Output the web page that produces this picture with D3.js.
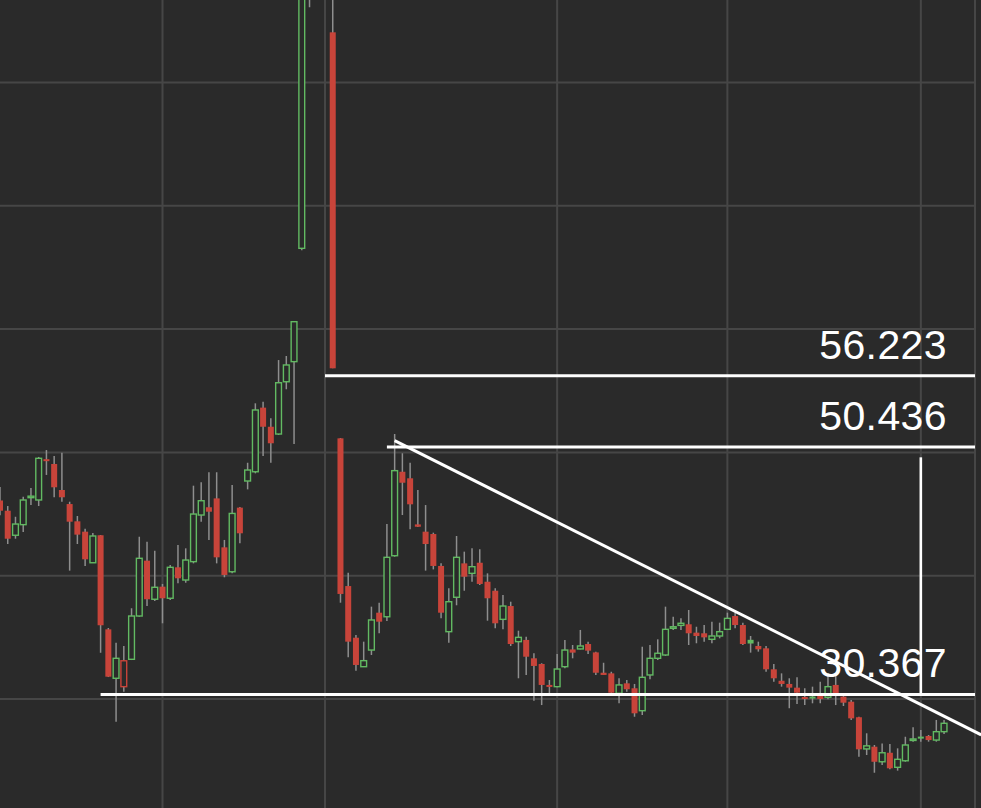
<!DOCTYPE html>
<html>
<head>
<meta charset="utf-8">
<script src="https://cdn.jsdelivr.net/npm/d3@7/dist/d3.min.js"></script>
<style>
html,body{margin:0;padding:0;background:#2a2a2a;overflow:hidden;}
svg{display:block;}
</style>
</head>
<body>
<svg id="chart" width="981" height="808"></svg>
<script>
// ---- data ----
const opens = [46.1,45.27,43.28,44.14,46.38,46.14,49.45,49.06,46.95,45.81,44.41,43.57,41.05,43.28,35.65,31.68,31.0,33.22,36.73,41.22,
38.09,39.11,38.17,40.68,39.65,41.14,44.92,45.55,46.27,42.3,40.32,45.52,47.68,48.43,53.63,52.08,51.49,55.73,57.36,66.55,
96,108,104,84.07,51.14,39.16,34.97,32.62,33.97,37.0,36.67,41.62,48.43,47.9,44.16,43.57,43.38,40.79,35.46,38.25,
41.0,40.19,41.05,39.51,38.78,36.46,37.54,34.65,34.79,33.3,32.84,31.14,31.0,32.62,34.02,34.06,34.46,33.78,32.13,32.08,
30.46,31.27,30.87,29.05,31.95,33.3,33.57,35.73,35.97,36.06,35.38,35.33,34.84,35.11,35.65,36.73,36.0,34.8,34.3,34.11,
32.41,31.48,31.22,30.92,30.16,30.2,30.24,30.14,31.14,30.19,29.78,28.52,25.95,26.13,24.91,25.64,24.46,24.99,26.72,26.95,
27.0,26.67,27.35];
const highs = [47.2,45.65,44.78,46.41,47.11,49.63,50.19,49.71,49.98,46.0,44.84,43.81,43.46,43.3,35.76,34.57,34.3,37.36,43.16,42.76,
42.03,39.33,40.87,42.49,42.22,47.3,47.57,48.39,48.39,42.9,47.36,45.57,49.16,53.98,54.11,52.77,57.49,57.82,60.65,97,
112,118,110,92,51.17,40.24,35.19,34.65,37.49,37.81,44.19,51.49,49.93,49.16,46.95,45.73,43.49,41.0,38.98,43.22,
41.95,42.22,42.14,40.19,38.98,38.43,37.89,35.54,35.05,33.71,32.9,31.54,33.65,34.79,34.38,35.6,34.65,33.84,32.94,32.21,
31.68,31.54,31.22,34.24,34.38,34.84,37.49,36.67,36.54,37.22,35.86,36.0,36.27,36.19,37.0,37.0,36.19,35.11,34.65,34.3,
32.84,32.08,31.68,31.76,30.87,31.0,31.4,32.08,31.95,30.32,29.92,28.56,27.22,26.27,26.4,26.35,26.0,26.94,27.7,27.49,
27.08,28.3,28.3];
const lows = [44.9,42.57,43.0,43.54,45.73,45.65,48.17,46.36,46.0,40.41,42.57,40.79,41.03,33.75,31.78,28.16,30.59,33.16,36.67,37.54,
37.95,36.14,38.03,39.38,39.43,41.0,44.38,42.9,41.0,39.87,40.19,42.63,47.0,48.3,49.71,49.16,51.41,55.12,50.68,66.4,
86.1,100,90,56.82,37.81,33.38,32.3,32.62,33.57,35.33,36.33,41.54,44.92,43.76,43.95,40.41,40.51,36.54,34.57,37.6,
38.78,39.51,39.25,36.35,35.73,35.65,34.3,31.68,31.95,29.86,29.51,30.32,30.95,32.49,33.3,34.03,33.65,31.95,31.95,30.46,
29.65,30.59,28.56,28.7,31.6,33.16,33.49,35.6,35.6,34.38,34.52,34.65,34.52,34.92,35.6,35.73,34.38,33.76,33.84,32.21,
31.4,31.0,29.25,29.59,29.51,29.65,29.65,29.98,29.51,29.43,28.3,25.32,25.46,24.02,24.65,24.3,24.19,24.91,26.54,26.54,
26.54,26.54,27.16];
const closes = [45.27,43.0,44.19,46.14,46.45,49.52,49.3,47.17,46.36,44.38,43.33,41.33,43.22,35.98,31.81,33.3,33.1,36.73,41.41,38.09,
39.06,38.17,40.68,39.79,41.27,45.0,46.08,45.19,41.49,40.06,45.05,43.44,48.57,53.44,52.08,50.74,55.65,57.09,60.6,95,
108,104,95,56.82,38.52,34.65,32.76,33.11,36.41,36.27,41.49,48.52,47.54,45.79,43.97,42.57,40.79,37.0,37.89,41.49,
39.92,40.73,39.33,38.17,36.14,37.54,34.46,35.0,33.43,32.68,31.14,31.0,32.43,33.97,33.76,34.3,33.92,32.13,31.95,30.51,
31.14,30.79,28.84,31.76,33.3,33.71,35.65,35.86,36.14,35.33,35.11,35.0,35.11,35.46,36.54,36.0,34.46,34.5,34.03,32.41,
31.68,31.22,30.92,30.51,30.12,30.18,30.0,31.0,30.32,29.7,28.43,25.92,26.2,24.91,25.64,24.38,25.11,26.27,26.76,26.8,
26.67,27.35,28.03];

const priceTicks = [30, 40, 50, 60, 70, 80];
const timeTicks = [21, 42, 72, 94, 119, 126];          // candle indices of the date grid lines
const levels = [56.223, 50.436, 30.367];
const levelStarts = [42, 50, 13];                      // candle index where each level line starts
const levelLabels = ["56.223", "50.436", "30.367"];
const trendFrom = [51, 50.95];                         // [index, price]
const trendTo = [126.8, 27.09];
const markerIndex = 119;
const markerRange = [49.6, 30.367];

// ---- layout ----
const W = 981, H = 808, plotRight = 975;
const svg = d3.select("#chart");
const x = d3.scaleLinear().domain([0, 126]).range([0, plotRight]);
const y = d3.scaleLinear().domain([21.16, 86.69]).range([H, 0]);

svg.append("rect").attr("width", W).attr("height", H).attr("fill", "#2a2a2a");

svg.append("defs").append("clipPath").attr("id", "plot")
  .append("rect").attr("x", 0).attr("y", 0).attr("width", plotRight).attr("height", H);

const gridColor = "#464646";
svg.append("g").selectAll("line").data(priceTicks).join("line")
  .attr("x1", 0).attr("x2", plotRight)
  .attr("y1", d => y(d)).attr("y2", d => y(d))
  .attr("stroke", gridColor).attr("stroke-width", 2);
svg.append("g").selectAll("line").data(timeTicks).join("line")
  .attr("x1", d => x(d)).attr("x2", d => x(d))
  .attr("y1", 0).attr("y2", H)
  .attr("stroke", gridColor).attr("stroke-width", 2);

const candles = opens.map((o, i) => ({
  i, o, h: highs[i], l: lows[i], c: closes[i],
  prev: i > 0 ? closes[i - 1] : o
}));

const green = "#62ba62", red = "#c8443a", wick = "#8e8e8e";
const g = svg.append("g").attr("clip-path", "url(#plot)");

g.selectAll("line.wick").data(candles).join("line").attr("class", "wick")
  .attr("x1", d => x(d.i)).attr("x2", d => x(d.i))
  .attr("y1", d => y(d.h)).attr("y2", d => y(d.l))
  .attr("stroke", wick).attr("stroke-width", 1.5);

g.selectAll("rect.body").data(candles).join("rect").attr("class", "body")
  .each(function(d) {
    const hollow = d.c >= d.o;
    const up = d.i === 0 ? d.c >= d.o : d.c >= d.prev;
    const col = up ? green : red;
    const top = y(Math.max(d.o, d.c)), bot = y(Math.min(d.o, d.c));
    const sel = d3.select(this);
    if (hollow) {
      sel.attr("x", x(d.i) - 2.9).attr("width", 5.8)
        .attr("y", top).attr("height", Math.max(bot - top, 1.5))
        .attr("fill", "#2a2a2a").attr("stroke", col).attr("stroke-width", 1.4);
    } else {
      sel.attr("x", x(d.i) - 3).attr("width", 6)
        .attr("y", top).attr("height", Math.max(bot - top, 2))
        .attr("fill", col);
    }
  });

// level lines
const lv = svg.append("g");
levels.forEach((v, k) => {
  lv.append("line")
    .attr("x1", x(levelStarts[k])).attr("x2", plotRight)
    .attr("y1", y(v)).attr("y2", y(v))
    .attr("stroke", "#ffffff").attr("stroke-width", 3);
});

// vertical marker
lv.append("line")
  .attr("x1", x(markerIndex)).attr("x2", x(markerIndex))
  .attr("y1", y(markerRange[0])).attr("y2", y(markerRange[1]))
  .attr("stroke", "#ffffff").attr("stroke-width", 2.6);

// trend line
lv.append("line")
  .attr("x1", x(trendFrom[0])).attr("y1", y(trendFrom[1]))
  .attr("x2", x(trendTo[0])).attr("y2", y(trendTo[1]))
  .attr("stroke", "#ffffff").attr("stroke-width", 3);

// labels
lv.selectAll("text").data(levels).join("text")
  .attr("x", 947).attr("y", d => y(d) - 17)
  .attr("text-anchor", "end")
  .attr("fill", "#ffffff")
  .attr("font-family", "'Liberation Sans', Arial, Helvetica, sans-serif")
  .attr("font-size", 41)
  .attr("letter-spacing", 0.4)
  .text((d, k) => levelLabels[k]);
</script>
</body>
</html>
